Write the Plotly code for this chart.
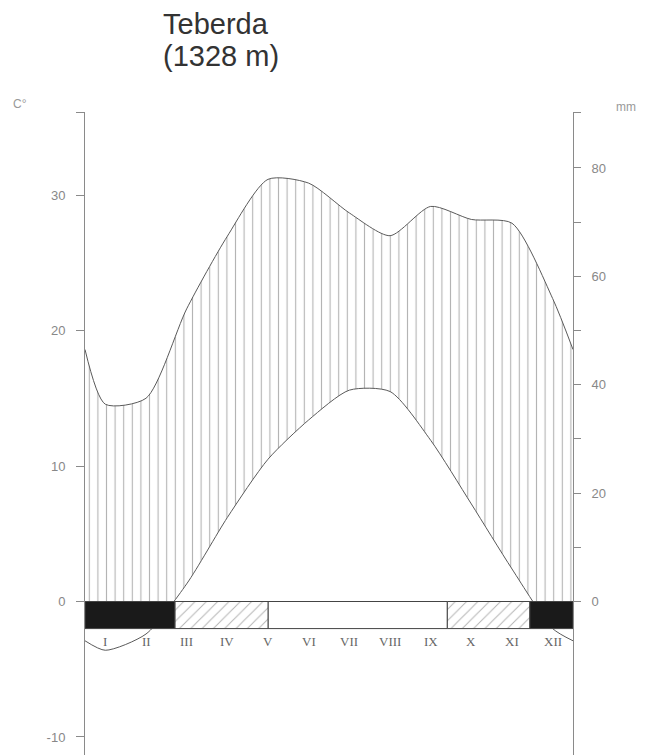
import plotly.graph_objects as go

# ---------------- data ----------------
months = ["I", "II", "III", "IV", "V", "VI", "VII", "VIII", "IX", "X", "XI", "XII"]
temp_c = [-3.6, -2.4, 1.3, 6.2, 10.5, 13.4, 15.6, 15.5, 11.9, 7.2, 2.4, -2.0]
precip_mm = [36.4, 37.5, 54.0, 67.4, 77.9, 77.2, 71.7, 67.5, 72.9, 70.5, 69.8, 55.9]
# values read at the Dec/Jan boundary (left and right edges of the diagram)
temp_edge_c = -2.9
precip_edge_mm = 46.5

# frost bar below the zero line (in month units along the year)
frost_start = [0.0, 2.21, 4.5, 8.91, 10.94]
frost_end = [2.21, 4.5, 8.91, 10.94, 12.0]
frost_kind = ["frost", "possible", "none", "possible", "frost"]

temp_ticks = [-10, 0, 10, 20, 30]
temp_tick_labels = ["-10", "0", "10", "20", "30"]
precip_ticks = [0, 10, 20, 30, 40, 50, 60, 70, 80]
precip_tick_labels = ["0", "", "20", "", "40", "", "60", "", "80"]

title_lines = ["Teberda", "(1328 m)"]

# ---------------- styling / geometry ----------------
OFF = 8  # page body margin
W, H = 645 - OFF, 755 - OFF
PLOT_X0, PLOT_X1, PLOT_Y0, PLOT_Y1 = 85, 573, 112, 755  # page pixels
L = PLOT_X0 - OFF
R = W - (PLOT_X1 - OFF)
T = PLOT_Y0 - OFF
B = H - (PLOT_Y1 - OFF)
PW, PH = PLOT_X1 - PLOT_X0, PLOT_Y1 - PLOT_Y0
MM_PER_C = 2.5
T_RANGE = [-11.33, 36.13]
P_RANGE = [v * MM_PER_C for v in T_RANGE]
BAR_DEPTH = -2.0
LABEL_Y = -2.95
GRAY = "#5a5a5a"
AX = "#8a8a8a"


def px(x):
    return (x - PLOT_X0) / PW


def py(y):
    return (PLOT_Y1 - y) / PH


xs = [0.0] + [i + 0.5 for i in range(12)] + [12.0]
t_series = [temp_edge_c] + temp_c + [temp_edge_c]
p_series = [precip_edge_mm] + precip_mm + [precip_edge_mm]

fig = go.Figure()

# precipitation (mm axis), hatched vertically down to zero
fig.add_trace(go.Scatter(
    x=xs, y=p_series, yaxis="y", mode="lines",
    line=dict(color=GRAY, width=1, shape="spline", smoothing=0.7),
    fill="tozeroy", fillcolor="rgba(255,255,255,0)",
    fillpattern=dict(shape="|", size=8.6, solidity=0.13, fgcolor="#6a6a6a",
                     bgcolor="rgba(255,255,255,0)", fillmode="overlay"),
    hoverinfo="skip",
))

# temperature (°C axis) - white fill masks the hatch below the curve
fig.add_trace(go.Scatter(
    x=xs, y=t_series, yaxis="y2", mode="lines",
    line=dict(color=GRAY, width=1, shape="spline", smoothing=0.7),
    fill="tozeroy", fillcolor="white",
    hoverinfo="skip",
))

# frost bars
styles = {
    "frost": dict(color="#1a1a1a", pattern=dict(shape="")),
    "possible": dict(color="white", pattern=dict(shape="/", size=8, solidity=0.12,
                                                 fgcolor="#666666", fillmode="overlay")),
    "none": dict(color="white", pattern=dict(shape="")),
}
for kind in ["none", "possible", "frost"]:
    idx = [i for i, k in enumerate(frost_kind) if k == kind]
    fig.add_trace(go.Bar(
        x=[(frost_start[i] + frost_end[i]) / 2 for i in idx],
        width=[frost_end[i] - frost_start[i] for i in idx],
        y=[BAR_DEPTH] * len(idx), base=[0] * len(idx),
        yaxis="y3",
        marker=dict(color=styles[kind]["color"], pattern=styles[kind]["pattern"],
                    line=dict(color="#444444", width=1)),
        hoverinfo="skip",
    ))

annotations = []
for i, m in enumerate(months):
    annotations.append(dict(
        x=i + 0.5, y=LABEL_Y, xref="x", yref="y2", text=m, showarrow=False,
        font=dict(family="Liberation Serif", size=13, color="#666666"),
        xanchor="center", yanchor="middle",
    ))

annotations.append(dict(x=px(161), y=py(24), xref="paper", yref="paper",
                        text=title_lines[0], showarrow=False, xanchor="left",
                        yanchor="middle",
                        font=dict(family="Liberation Sans", size=29, color="#333333")))
annotations.append(dict(x=px(161), y=py(56), xref="paper", yref="paper",
                        text=title_lines[1], showarrow=False, xanchor="left",
                        yanchor="middle",
                        font=dict(family="Liberation Sans", size=29, color="#333333")))
annotations.append(dict(x=px(20), y=py(104), xref="paper", yref="paper", text="C°",
                        showarrow=False, xanchor="center", yanchor="middle",
                        font=dict(family="Liberation Sans", size=12, color="#999999")))
annotations.append(dict(x=px(626), y=py(107), xref="paper", yref="paper", text="mm",
                        showarrow=False, xanchor="center", yanchor="middle",
                        font=dict(family="Liberation Sans", size=12, color="#999999")))

tick_font = dict(family="Liberation Sans", size=13, color="#888888")

fig.update_layout(
    width=W, height=H,
    margin=dict(l=L, r=R, t=T, b=B, pad=0, autoexpand=False),
    paper_bgcolor="white", plot_bgcolor="white",
    showlegend=False, barmode="overlay",
    xaxis=dict(range=[0, 12], visible=False, domain=[0, 1]),
    yaxis=dict(
        range=P_RANGE, side="right", showgrid=False,
        zeroline=True, zerolinecolor=AX, zerolinewidth=1,
        showline=True, linecolor=AX, linewidth=1,
        ticks="outside", ticklen=7, tickcolor=AX, tickwidth=1,
        tickvals=precip_ticks + [P_RANGE[1] - 0.05],
        ticktext=precip_tick_labels + [""],
        tickfont=tick_font, ticklabelstandoff=8,
    ),
    yaxis2=dict(
        range=T_RANGE, side="left", overlaying="y", showgrid=False,
        zeroline=False,
        showline=True, linecolor=AX, linewidth=1,
        ticks="outside", ticklen=8, tickcolor=AX, tickwidth=1,
        tickvals=temp_ticks + [T_RANGE[1] - 0.02],
        ticktext=temp_tick_labels + [""],
        tickfont=tick_font, ticklabelstandoff=8,
    ),
    yaxis3=dict(range=T_RANGE, overlaying="y", visible=False),
    annotations=annotations,
)

fig.write_html("out.html")
